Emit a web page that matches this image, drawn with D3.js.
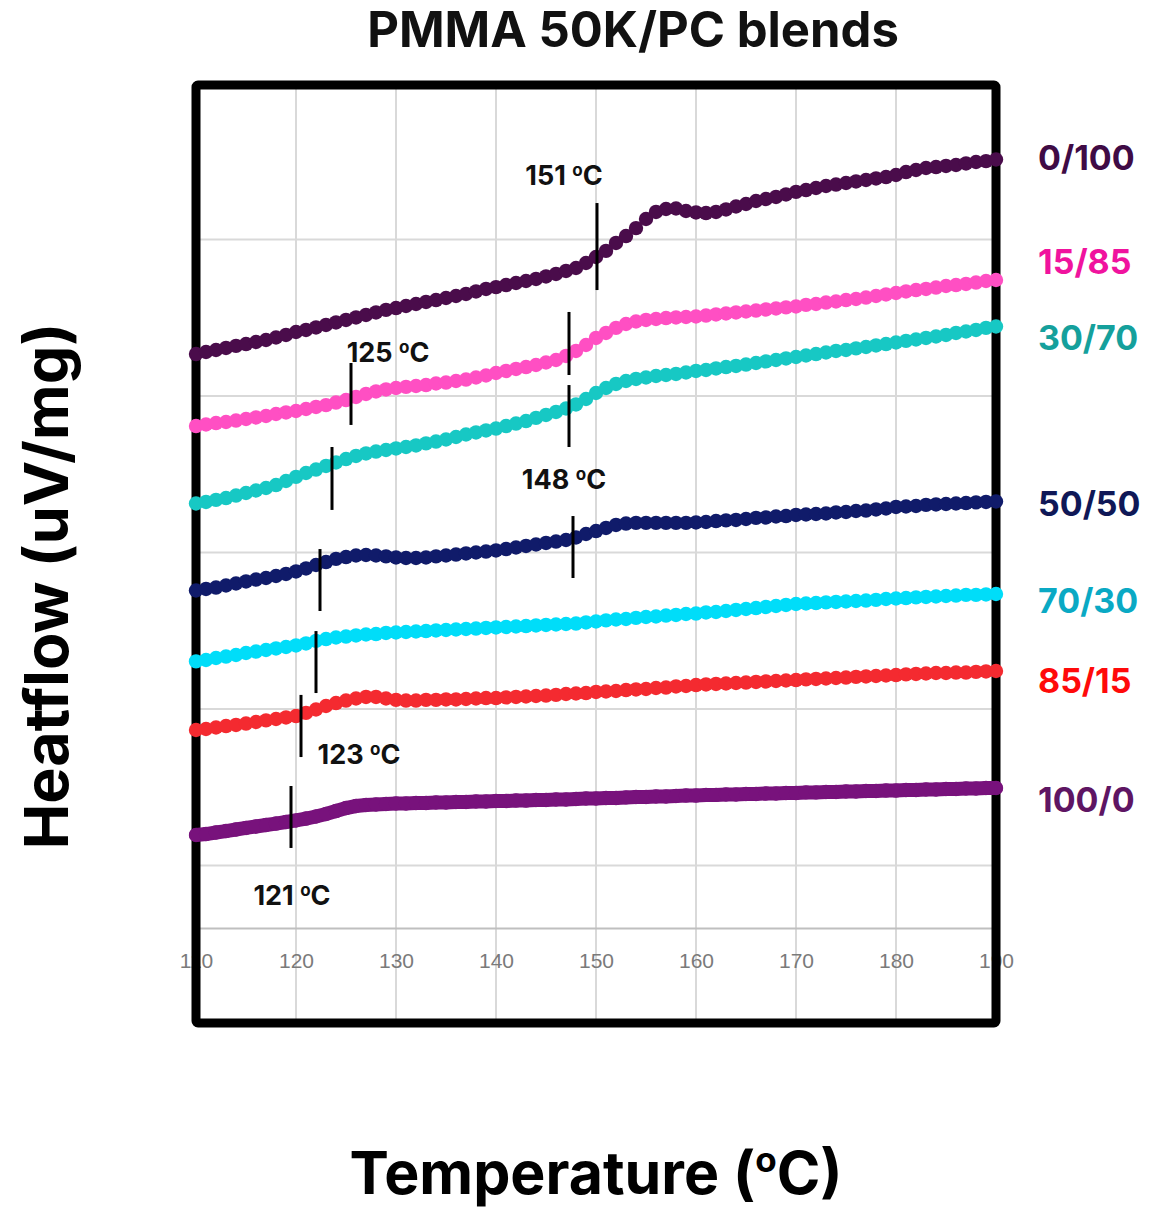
<!DOCTYPE html>
<html>
<head>
<meta charset="utf-8">
<style>
  body { margin: 0; background: #fff; }
  svg { display: block; font-family: Inter, "Open Sans", sans-serif; }
  .xaxis text { font-family: "Liberation Sans", Arial, sans-serif; }
</style>
</head>
<body>
<svg width="1159" height="1211"></svg>

<script src="https://d3js.org/d3.v7.min.js"></script>
<script>
// temperature (°C), one reading per degree
const temps = [110, 111, 112, 113, 114, 115, 116, 117, 118, 119,
  120, 121, 122, 123, 124, 125, 126, 127, 128, 129,
  130, 131, 132, 133, 134, 135, 136, 137, 138, 139,
  140, 141, 142, 143, 144, 145, 146, 147, 148, 149,
  150, 151, 152, 153, 154, 155, 156, 157, 158, 159,
  160, 161, 162, 163, 164, 165, 166, 167, 168, 169,
  170, 171, 172, 173, 174, 175, 176, 177, 178, 179,
  180, 181, 182, 183, 184, 185, 186, 187, 188, 189, 190];

// heatflow, offset curves (arbitrary units, grid every 10)
const s0_100 = [42.68, 42.81, 42.94, 43.07, 43.20, 43.32, 43.45, 43.58, 43.74, 43.90,
  44.09, 44.22, 44.38, 44.54, 44.70, 44.86, 45.02, 45.18, 45.34, 45.50,
  45.62, 45.75, 45.88, 46.01, 46.13, 46.26, 46.39, 46.52, 46.68, 46.84,
  46.96, 47.09, 47.22, 47.35, 47.48, 47.64, 47.80, 47.99, 48.18, 48.50,
  48.88, 49.27, 49.78, 50.22, 50.73, 51.31, 51.76, 51.95, 51.98, 51.82,
  51.73, 51.69, 51.76, 51.92, 52.11, 52.27, 52.46, 52.59, 52.72, 52.88,
  53.04, 53.16, 53.29, 53.42, 53.51, 53.61, 53.71, 53.80, 53.90, 53.99,
  54.12, 54.31, 54.44, 54.57, 54.63, 54.70, 54.76, 54.86, 54.95, 55.01, 55.11];

const s15_85 = [38.08, 38.18, 38.27, 38.34, 38.43, 38.53, 38.63, 38.72, 38.85, 38.95,
  39.04, 39.17, 39.30, 39.42, 39.58, 39.74, 39.94, 40.13, 40.29, 40.42,
  40.51, 40.58, 40.64, 40.70, 40.80, 40.86, 40.96, 41.05, 41.18, 41.31,
  41.47, 41.60, 41.73, 41.85, 41.98, 42.14, 42.30, 42.56, 42.88, 43.26,
  43.71, 44.03, 44.35, 44.60, 44.76, 44.86, 44.92, 44.98, 45.02, 45.05,
  45.08, 45.14, 45.21, 45.27, 45.34, 45.40, 45.46, 45.53, 45.59, 45.66,
  45.72, 45.82, 45.88, 45.97, 46.04, 46.13, 46.20, 46.29, 46.39, 46.49,
  46.58, 46.68, 46.77, 46.84, 46.93, 47.03, 47.09, 47.16, 47.25, 47.35, 47.41];

const s30_70 = [33.13, 33.23, 33.36, 33.48, 33.64, 33.80, 33.96, 34.12, 34.31, 34.57,
  34.83, 35.08, 35.30, 35.53, 35.75, 35.97, 36.17, 36.33, 36.45, 36.55,
  36.65, 36.74, 36.84, 36.97, 37.09, 37.22, 37.38, 37.54, 37.67, 37.80,
  37.92, 38.08, 38.24, 38.40, 38.60, 38.79, 38.98, 39.20, 39.46, 39.81,
  40.19, 40.51, 40.77, 40.96, 41.09, 41.18, 41.28, 41.34, 41.41, 41.50,
  41.60, 41.66, 41.76, 41.85, 41.92, 42.01, 42.11, 42.21, 42.30, 42.40,
  42.49, 42.59, 42.68, 42.78, 42.88, 42.94, 43.04, 43.13, 43.23, 43.32,
  43.42, 43.52, 43.61, 43.71, 43.80, 43.90, 44.03, 44.12, 44.22, 44.35, 44.44];

const s50_50 = [27.57, 27.67, 27.76, 27.89, 28.02, 28.15, 28.27, 28.37, 28.50, 28.63,
  28.79, 28.98, 29.20, 29.39, 29.59, 29.71, 29.81, 29.84, 29.81, 29.75,
  29.68, 29.65, 29.65, 29.68, 29.75, 29.81, 29.87, 29.94, 30.00, 30.06,
  30.13, 30.22, 30.32, 30.42, 30.51, 30.61, 30.70, 30.80, 30.96, 31.18,
  31.37, 31.57, 31.76, 31.85, 31.89, 31.89, 31.89, 31.89, 31.89, 31.89,
  31.92, 31.95, 32.01, 32.05, 32.08, 32.14, 32.21, 32.24, 32.30, 32.33,
  32.40, 32.43, 32.46, 32.49, 32.56, 32.59, 32.65, 32.68, 32.75, 32.81,
  32.91, 32.94, 32.97, 33.04, 33.07, 33.10, 33.13, 33.16, 33.20, 33.23, 33.26];

const s70_30 = [23.04, 23.13, 23.26, 23.35, 23.45, 23.58, 23.67, 23.77, 23.87, 23.96,
  24.06, 24.19, 24.35, 24.47, 24.57, 24.63, 24.70, 24.76, 24.79, 24.86,
  24.89, 24.92, 24.95, 24.98, 25.02, 25.05, 25.08, 25.11, 25.14, 25.18,
  25.21, 25.24, 25.27, 25.30, 25.34, 25.37, 25.40, 25.43, 25.46, 25.53,
  25.59, 25.66, 25.72, 25.75, 25.82, 25.88, 25.91, 25.97, 26.01, 26.07,
  26.10, 26.17, 26.20, 26.26, 26.33, 26.39, 26.45, 26.52, 26.58, 26.65,
  26.71, 26.74, 26.77, 26.81, 26.84, 26.87, 26.90, 26.93, 26.97, 27.03,
  27.06, 27.09, 27.13, 27.16, 27.19, 27.22, 27.25, 27.29, 27.29, 27.32, 27.35];

const s85_15 = [18.66, 18.72, 18.82, 18.91, 18.98, 19.07, 19.17, 19.27, 19.36, 19.46,
  19.55, 19.75, 19.97, 20.19, 20.38, 20.54, 20.67, 20.77, 20.77, 20.67,
  20.58, 20.54, 20.54, 20.58, 20.58, 20.61, 20.61, 20.64, 20.67, 20.70,
  20.70, 20.74, 20.77, 20.80, 20.83, 20.86, 20.90, 20.96, 20.99, 21.02,
  21.09, 21.12, 21.15, 21.21, 21.25, 21.28, 21.34, 21.37, 21.44, 21.47,
  21.53, 21.57, 21.60, 21.63, 21.66, 21.69, 21.73, 21.76, 21.79, 21.82,
  21.85, 21.89, 21.92, 21.95, 21.98, 22.01, 22.05, 22.08, 22.11, 22.14,
  22.17, 22.21, 22.24, 22.27, 22.30, 22.30, 22.33, 22.33, 22.37, 22.40, 22.43];

const s100_0 = [11.95, 12.01, 12.11, 12.20, 12.30, 12.40, 12.49, 12.59, 12.68, 12.78,
  12.88, 13.00, 13.13, 13.29, 13.48, 13.67, 13.80, 13.87, 13.90, 13.93,
  13.96, 13.96, 13.99, 13.99, 14.03, 14.03, 14.06, 14.06, 14.09, 14.09,
  14.12, 14.12, 14.15, 14.15, 14.19, 14.19, 14.22, 14.22, 14.25, 14.28,
  14.28, 14.31, 14.31, 14.35, 14.38, 14.38, 14.41, 14.41, 14.44, 14.47,
  14.47, 14.51, 14.51, 14.54, 14.54, 14.57, 14.57, 14.60, 14.60, 14.63,
  14.63, 14.67, 14.67, 14.70, 14.70, 14.73, 14.73, 14.76, 14.76, 14.79,
  14.79, 14.82, 14.82, 14.86, 14.86, 14.89, 14.89, 14.92, 14.92, 14.95, 14.95];

const blends = ["0/100", "15/85", "30/70", "50/50", "70/30", "85/15", "100/0"];
const seriesValues = [s0_100, s15_85, s30_70, s50_50, s70_30, s85_15, s100_0];
const lineColors = ["#4a0c4b", "#ff4fc3", "#17c8c4", "#101b6a", "#00ddf9", "#f42a30", "#78127c"];
const labelColors = ["#3f0b45", "#f0139e", "#15a09c", "#0f1857", "#0aa9c4", "#ff0a0a", "#5e1563"];
// vertical position of blend labels (heatflow units)
const labelValues = [55.2, 48.6, 43.7, 33.1, 26.9, 21.8, 14.2];

// Tg tick marks: temperature, bottom and top of the tick
const tgTicks = [
  { t: 150.1, lo: 46.77, hi: 52.33 },
  { t: 147.3, lo: 41.34, hi: 45.37 },
  { t: 147.3, lo: 36.74, hi: 40.70 },
  { t: 125.5, lo: 38.15, hi: 42.11 },
  { t: 123.6, lo: 32.72, hi: 36.74 },
  { t: 147.7, lo: 28.37, hi: 32.33 },
  { t: 122.4, lo: 26.26, hi: 30.22 },
  { t: 122.0, lo: 21.02, hi: 24.98 },
  { t: 120.5, lo: 16.93, hi: 20.90 },
  { t: 119.5, lo: 11.12, hi: 15.08 }
];
const tgLabels = [
  { text: "151", t: 146.8, v: 53.48 },
  { text: "125", t: 129.2, v: 42.17 },
  { text: "148", t: 146.8, v: 34.06 },
  { text: "123", t: 126.3, v: 16.49 },
  { text: "121", t: 119.6, v: 7.48 }
];

const xTicks = [110, 120, 130, 140, 150, 160, 170, 180, 190];
const yGrid = [10, 20, 30, 40, 50];
const axisCross = 6;

let svg = d3.select("svg");

let x = d3.scaleLinear().domain([110, 190]).range([196, 996]);
let y = d3.scaleLinear().domain([0, 60]).range([1022, 83]);

// gridlines
svg.append("g")
  .selectAll("line")
  .data(xTicks.slice(1, -1))
  .join("line")
  .attr("x1", d => x(d)).attr("x2", d => x(d))
  .attr("y1", y(60)).attr("y2", y(0))
  .attr("stroke", "#d9d9d9")
  .attr("stroke-width", 2);

svg.append("g")
  .selectAll("line")
  .data(yGrid)
  .join("line")
  .attr("x1", x(110)).attr("x2", x(190))
  .attr("y1", d => y(d)).attr("y2", d => y(d))
  .attr("stroke", "#d9d9d9")
  .attr("stroke-width", 2);

// x axis
let xAxis = svg.append("g")
  .attr("class", "xaxis")
  .attr("transform", `translate(0,${y(axisCross)})`)
  .call(d3.axisBottom(x).tickValues(xTicks).tickSize(0).tickPadding(25));
xAxis.select(".domain").attr("stroke", "#bfbfbf").attr("stroke-width", 2);
xAxis.selectAll("text").attr("font-size", 21).attr("fill", "#7a7a7a");

// plot frame
svg.append("rect")
  .attr("x", x(110)).attr("y", y(60) + 2)
  .attr("width", x(190) - x(110))
  .attr("height", y(0) - y(60) - 1)
  .attr("rx", 2)
  .attr("fill", "none")
  .attr("stroke", "#000")
  .attr("stroke-width", 9);

// series
let line = d3.line().x(d => x(d[0])).y(d => y(d[1]));

seriesValues.forEach((vals, i) => {
  let pts = temps.map((t, j) => [t, vals[j]]);
  let g = svg.append("g");
  if (blends[i] == "100/0") {
    g.append("path")
      .attr("d", line(pts))
      .attr("fill", "none")
      .attr("stroke", lineColors[i])
      .attr("stroke-width", 14)
      .attr("stroke-linecap", "round");
  }
  g.selectAll("circle")
    .data(pts)
    .join("circle")
    .attr("cx", d => x(d[0]))
    .attr("cy", d => y(d[1]))
    .attr("r", 7.2)
    .attr("fill", lineColors[i]);
});

// Tg ticks
svg.append("g")
  .selectAll("line")
  .data(tgTicks)
  .join("line")
  .attr("x1", d => x(d.t)).attr("x2", d => x(d.t))
  .attr("y1", d => y(d.lo)).attr("y2", d => y(d.hi))
  .attr("stroke", "#000")
  .attr("stroke-width", 3);

// Tg labels
let tl = svg.append("g")
  .selectAll("text")
  .data(tgLabels)
  .join("text")
  .attr("x", d => x(d.t))
  .attr("y", d => y(d.v))
  .attr("text-anchor", "middle")
  .attr("font-size", 27)
  .attr("font-weight", 700)
  .attr("fill", "#111");
tl.append("tspan").text(d => d.text + " ");
tl.append("tspan").attr("font-size", 17).attr("dy", -9).text("o");
tl.append("tspan").attr("dy", 9).text("C");

// blend labels
svg.append("g")
  .selectAll("text")
  .data(blends)
  .join("text")
  .attr("x", 1038)
  .attr("y", (d, i) => y(labelValues[i]))
  .attr("dy", "0.36em")
  .attr("font-size", 34)
  .attr("font-weight", 700)
  .attr("fill", (d, i) => labelColors[i])
  .text(d => d);

// titles
svg.append("text")
  .attr("x", 633).attr("y", 47)
  .attr("text-anchor", "middle")
  .attr("font-size", 49)
  .attr("font-weight", 700)
  .attr("fill", "#111")
  .text("PMMA 50K/PC blends");

svg.append("text")
  .attr("transform", "translate(68,586) rotate(-90)")
  .attr("text-anchor", "middle")
  .attr("font-size", 61)
  .attr("font-weight", 700)
  .attr("fill", "#000")
  .text("Heatflow (uV/mg)");

let xl = svg.append("text")
  .attr("x", 596).attr("y", 1194)
  .attr("text-anchor", "middle")
  .attr("font-size", 59)
  .attr("font-weight", 700)
  .attr("fill", "#000");
xl.append("tspan").text("Temperature (");
xl.append("tspan").attr("font-size", 35).attr("dy", -22).text("o");
xl.append("tspan").attr("dy", 22).text("C)");
</script>
</body>
</html>
